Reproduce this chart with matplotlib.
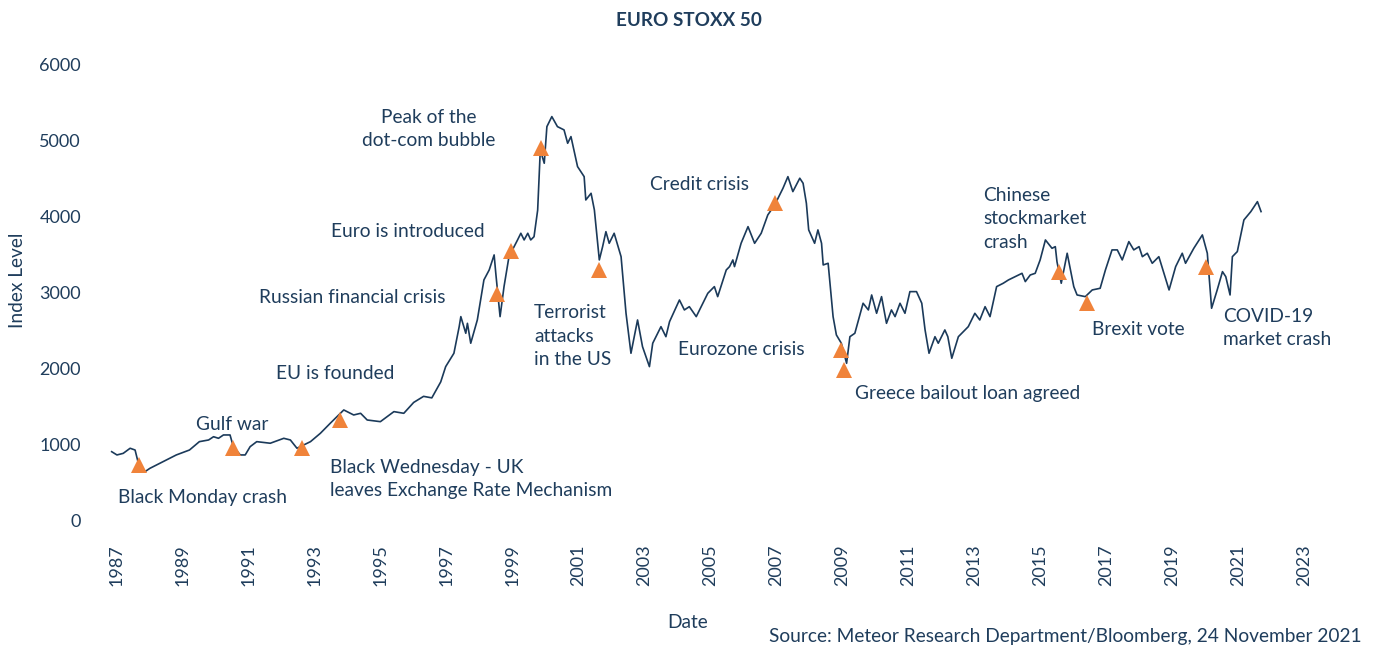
import matplotlib

matplotlib.use("Agg")
import matplotlib.pyplot as plt

# EURO STOXX 50 level (decimal year, index level)
years = [
    1986.84, 1987.0, 1987.19, 1987.4, 1987.55, 1987.65, 1987.85, 1988.0, 1988.2, 1988.5,
    1988.8, 1989.2, 1989.5, 1989.78, 1989.93, 1990.08, 1990.23, 1990.43, 1990.53, 1990.74,
    1990.89, 1991.04, 1991.24, 1991.65, 1992.06, 1992.26, 1992.46, 1992.66, 1992.87, 1993.17,
    1993.47, 1993.88, 1994.18, 1994.39, 1994.59, 1994.99, 1995.4, 1995.7, 1996.0, 1996.3,
    1996.55, 1996.82, 1996.97, 1997.22, 1997.38, 1997.43, 1997.58, 1997.63, 1997.73, 1997.93,
    1998.13, 1998.29, 1998.44, 1998.49, 1998.62, 1998.74, 1998.89, 1999.15, 1999.25, 1999.35,
    1999.46, 1999.55, 1999.65, 1999.76, 1999.84, 1999.96, 2000.04, 2000.19, 2000.36, 2000.56,
    2000.67, 2000.77, 2000.97, 2001.17, 2001.22, 2001.38, 2001.48, 2001.63, 2001.73, 2001.83,
    2001.93, 2002.08, 2002.29, 2002.44, 2002.59, 2002.79, 2002.94, 2003.15, 2003.25, 2003.5,
    2003.65, 2003.76, 2004.06, 2004.21, 2004.36, 2004.57, 2004.92, 2005.12, 2005.22, 2005.48,
    2005.58, 2005.68, 2005.73, 2005.93, 2006.14, 2006.34, 2006.54, 2006.74, 2006.95, 2007.2,
    2007.35, 2007.5, 2007.71, 2007.81, 2007.91, 2007.98, 2008.16, 2008.26, 2008.37, 2008.42,
    2008.57, 2008.72, 2008.82, 2008.97, 2009.13, 2009.23, 2009.38, 2009.63, 2009.79, 2009.89,
    2010.04, 2010.19, 2010.34, 2010.49, 2010.6, 2010.75, 2010.9, 2011.05, 2011.25, 2011.41,
    2011.51, 2011.63, 2011.81, 2011.91, 2012.11, 2012.2, 2012.32, 2012.52, 2012.82, 2013.02,
    2013.17, 2013.33, 2013.48, 2013.68, 2013.88, 2014.04, 2014.24, 2014.45, 2014.55, 2014.7,
    2014.85, 2015.0, 2015.16, 2015.36, 2015.46, 2015.51, 2015.64, 2015.82, 2016.02, 2016.12,
    2016.37, 2016.58, 2016.82, 2016.98, 2017.18, 2017.34, 2017.49, 2017.69, 2017.84, 2018.0,
    2018.1, 2018.25, 2018.4, 2018.6, 2018.91, 2019.11, 2019.31, 2019.41, 2019.66, 2019.92,
    2020.07, 2020.2, 2020.37, 2020.53, 2020.63, 2020.76, 2020.83, 2020.98, 2021.18, 2021.39,
    2021.59, 2021.7,
]
levels = [
    912, 869, 890, 957, 934, 759, 649, 693, 737, 803,
    869, 934, 1044, 1066, 1109, 1088, 1132, 1132, 978, 869,
    869, 978, 1044, 1023, 1088, 1066, 957, 1000, 1044, 1154,
    1286, 1461, 1395, 1417, 1329, 1307, 1439, 1417, 1560, 1640,
    1620, 1830, 2031, 2207, 2557, 2689, 2470, 2601, 2339, 2645,
    3172, 3303, 3501, 3260, 2689, 3084, 3478, 3698, 3786, 3698,
    3786, 3698, 3741, 4090, 4882, 4707, 5189, 5321, 5189, 5146,
    4970, 5058, 4663, 4531, 4224, 4312, 4093, 3435, 3610, 3807,
    3654, 3786, 3478, 2733, 2207, 2645, 2294, 2031, 2339, 2557,
    2425, 2623, 2908, 2777, 2820, 2689, 2996, 3084, 2952, 3303,
    3347, 3435, 3347, 3654, 3873, 3654, 3786, 4027, 4159, 4378,
    4531, 4334, 4510, 4444, 4181, 3830, 3654, 3830, 3654, 3369,
    3391, 2689, 2448, 2339, 2075, 2425, 2470, 2865, 2777, 2974,
    2733, 2952, 2601, 2777, 2689, 2865, 2733, 3018, 3018, 2865,
    2514, 2207, 2425, 2339, 2514, 2425, 2141, 2425, 2557, 2733,
    2645, 2820, 2689, 3084, 3128, 3172, 3215, 3259, 3150, 3237,
    3259, 3435, 3698, 3588, 3610, 3413, 3128, 3523, 3084, 2974,
    2952, 3040, 3062, 3303, 3567, 3567, 3435, 3676, 3567, 3610,
    3478, 3523, 3391, 3478, 3040, 3347, 3523, 3391, 3588, 3764,
    3523, 2799, 3040, 3281, 3215, 2974, 3478, 3545, 3961, 4071,
    4202, 4071,
]

# market events (marker position and label)
event_years = [1987.68, 1990.52, 1992.6, 1993.76, 1998.52, 1998.96, 1999.86, 2001.62,
               2006.97, 2008.97, 2009.06, 2015.58, 2016.42, 2020.02]
event_levels = [737, 957, 957, 1329, 2987, 3557, 4904, 3303,
                4181, 2250, 1987, 3281, 2873, 3339]
event_labels = [
    "Black Monday crash",
    "Gulf war",
    "Black Wednesday - UK\nleaves Exchange Rate Mechanism",
    "EU is founded",
    "Russian financial crisis",
    "Euro is introduced",
    "Peak of the\ndot-com bubble",
    "Terrorist\nattacks\nin the US",
    "Credit crisis",
    "Eurozone crisis",
    "Greece bailout loan agreed",
    "Chinese\nstockmarket\ncrash",
    "Brexit vote",
    "COVID-19\nmarket crash",
]
# where each label sits (x, y, horizontal alignment)
label_pos = [
    (1987.03, 303, "left"),
    (1989.40, 1276, "left"),
    (1993.46, 553, "left"),
    (1991.82, 1947, "left"),
    (1991.31, 2947, "left"),
    (1993.49, 3803, "left"),
    (1996.45, 5158, "center"),
    (1999.65, 2434, "left"),
    (2003.17, 4434, "left"),
    (2004.02, 2263, "left"),
    (2009.38, 1671, "left"),
    (2013.27, 3974, "left"),
    (2016.57, 2526, "left"),
    (2020.55, 2539, "left"),
]

year_ticks = list(range(1987, 2024, 2))
level_ticks = [0, 1000, 2000, 3000, 4000, 5000, 6000]

NAVY = "#1f3d5c"
LINE = "#1b3a5a"
ORANGE = "#f0833a"

plt.rcParams["font.family"] = ["Lato", "DejaVu Sans"]

fig = plt.figure(figsize=(13.78, 6.48), dpi=100)
ax = fig.add_axes([0.0729, 0.196, 0.8853, 0.7037])

ax.plot(years, levels, color=LINE, linewidth=1.2)
ax.plot(event_years, event_levels, linestyle="none", marker="^", markersize=12,
        color=ORANGE, markeredgewidth=0)

for label, (tx, ty, ha) in zip(event_labels, label_pos):
    ax.text(tx, ty, label, ha=ha, va="center", fontsize=13.8, color=NAVY,
            linespacing=1.45, multialignment=ha)

ax.set_xlim(1986.5, 2023.5)
ax.set_ylim(0, 6000)
ax.set_xticks(year_ticks)
ax.set_xticklabels([str(y) for y in year_ticks], rotation=90)
ax.set_yticks(level_ticks)
ax.tick_params(axis="both", length=0, labelsize=13, labelcolor=NAVY)
ax.tick_params(axis="x", pad=17)
ax.tick_params(axis="y", pad=14)
for spine in ax.spines.values():
    spine.set_visible(False)

fig.text(0.5, 0.969, "EURO STOXX 50", ha="center", va="center", fontsize=13.6,
         fontweight="bold", color=NAVY)
fig.text(0.013, 0.568, "Index Level", rotation=90, ha="center", va="center",
         fontsize=13.8, color=NAVY)
fig.text(0.4993, 0.04, "Date", ha="center", va="center", fontsize=13.8, color=NAVY)
fig.text(0.988, 0.018, "Source: Meteor Research Department/Bloomberg, 24 November 2021",
         ha="right", va="center", fontsize=13.8, color=NAVY)

fig.savefig("out.png", dpi=100, facecolor="white")
